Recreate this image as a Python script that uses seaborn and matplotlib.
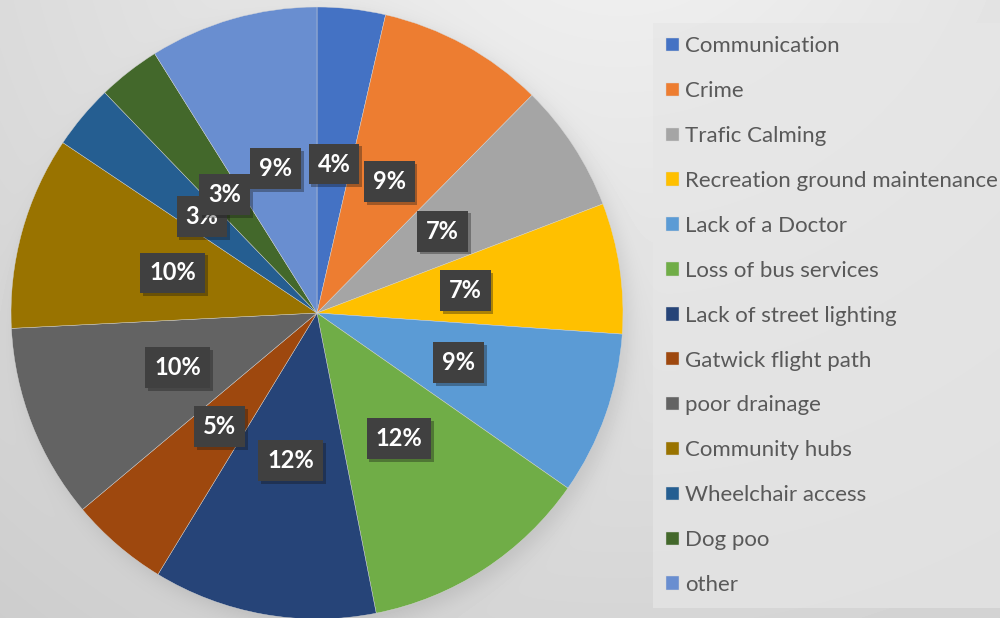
import numpy as np
import matplotlib
matplotlib.use("Agg")
import matplotlib.pyplot as plt
import matplotlib.patheffects as pe
import seaborn as sns

categories = ["Communication", "Crime", "Trafic Calming", "Recreation ground maintenance",
              "Lack of a Doctor", "Loss of bus services", "Lack of street lighting",
              "Gatwick flight path", "poor drainage", "Community hubs",
              "Wheelchair access", "Dog poo", "other"]
shares = [3.6, 8.8, 6.8, 6.9, 8.6, 12.2, 11.8, 5.2, 10.3, 10.2, 3.4, 3.3, 8.9]
colors = ["#4472C4", "#ED7D31", "#A5A5A5", "#FFC000", "#5B9BD5", "#70AD47", "#264478",
          "#9E480E", "#636363", "#997300", "#255E91", "#43682B", "#698ED0"]

sns.set_theme(style="white")
plt.rcParams['font.family'] = ['Lato', 'DejaVu Sans']
palette = sns.color_palette(colors)

fig = plt.figure(figsize=(10, 6.18), dpi=100)

# background gradient with soft shadow behind the pie
H, W = 618, 1000
yy, xx = np.mgrid[0:H, 0:W]
d = np.hypot(xx - 620, yy + 150)
base = 0.955 - 0.13 * np.clip(d / 850, 0, 1.3)
ds = np.hypot(xx - 323, yy - 320)
sh = 0.5 * (1 - np.tanh((ds - 306) / 12))
img = base - 0.09 * sh
bgax = fig.add_axes([0, 0, 1, 1], zorder=0)
bgax.imshow(img, cmap='gray', vmin=0, vmax=1, extent=(0, 1, 0, 1), aspect='auto',
            interpolation='bilinear')
bgax.axis('off')

ax = fig.add_axes([0.011, (618 - 313 - 306) / 618, 0.612, 612 / 618], zorder=1)
ax.set_facecolor('none')
wedges, texts, autotexts = ax.pie(
    shares, colors=palette, startangle=90, counterclock=False, radius=1,
    autopct='%1.0f%%', pctdistance=0.49,
    wedgeprops=dict(linewidth=0.3, edgecolor='#d8d8d8'),
    textprops=dict(color='white', fontsize=17, fontweight='bold'))
for t in autotexts:
    t.set_bbox(dict(boxstyle='square,pad=0.38', facecolor='#404040', edgecolor='none'))
    t.get_bbox_patch().set_path_effects([pe.SimplePatchShadow(offset=(2, -2), alpha=0.35), pe.Normal()])
ax.set_xlim(-1, 1)
ax.set_ylim(-1, 1)
ax.set_aspect('equal')
ax.axis('off')

leg = fig.legend(wedges, categories, loc='upper left', bbox_to_anchor=(0.653, 1 - 23 / 618),
                 frameon=True, fontsize=16, labelspacing=1.12, handlelength=0.55,
                 handleheight=0.55, handletextpad=0.3, borderpad=0.6, borderaxespad=0,
                 fancybox=False)
leg.get_frame().set_facecolor('#e6e6e6')
leg.get_frame().set_alpha(0.7)
leg.get_frame().set_edgecolor('none')
for txt in leg.get_texts():
    txt.set_color('#595959')

fig.savefig('out.png', dpi=100)
